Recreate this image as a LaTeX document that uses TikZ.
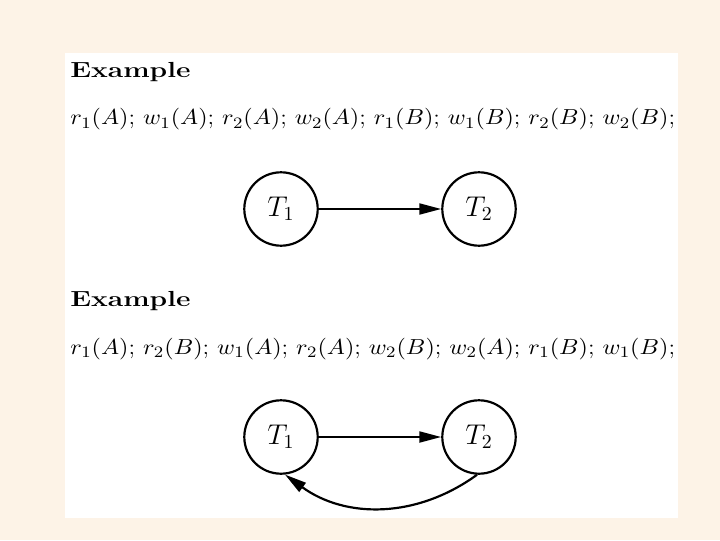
\documentclass[tikz,border=0pt]{standalone}
\usepackage{amsfonts, amssymb, amsmath}
\usepackage{xcolor}
\usepackage{graphicx}
\usetikzlibrary{arrows.meta}
\definecolor{fondo}{RGB}{253,243,231}

\begin{document}
\begin{tikzpicture}[x=0.504pt, y=-0.504pt, font=\fontsize{11}{13}\selectfont,
    trans/.style={draw, line width=1.1pt, circle, minimum size=37pt, inner sep=0pt,
      font=\fontsize{14.5}{16}\selectfont},
    flecha/.style={-{Triangle[length=11pt,width=5.5pt]}, line width=1.1pt},
    texto/.style={anchor=base west, inner sep=0pt}]
    % Parámetros: posiciones horizontales de T_1 y T_2, y alturas de cada grafo
    \def\xa{281}
    \def\xb{479}
    \def\ya{209}
    \def\yb{437}

    % Fondo y recuadro blanco
    \fill[fondo] (0,0) rectangle (720,540);
    \fill[white] (65,53) rectangle (678,518);

    % Primer ejemplo: título y planificación
    \node[texto] (tit1) at (70,78) {\scalebox{1.29}[1]{\textbf{Example}}};
    \node[texto] (plan1) at (70,125) {\scalebox{1.11}[1]{$r_1(A)$; $w_1(A)$; $r_2(A)$; $w_2(A)$; $r_1(B)$; $w_1(B)$; $r_2(B)$; $w_2(B)$;}};

    % Grafo de precedencia del primer ejemplo
    \node[trans] (t1a) at (\xa,\ya) {$T_1$};
    \node[trans] (t2a) at (\xb,\ya) {$T_2$};
    \draw[flecha] (t1a) -- (t2a);

    % Segundo ejemplo: título y planificación
    \node[texto] (tit2) at (70,306) {\scalebox{1.29}[1]{\textbf{Example}}};
    \node[texto] (plan2) at (70,354) {\scalebox{1.11}[1]{$r_1(A)$; $r_2(B)$; $w_1(A)$; $r_2(A)$; $w_2(B)$; $w_2(A)$; $r_1(B)$; $w_1(B)$;}};

    % Grafo de precedencia del segundo ejemplo (con ciclo)
    \node[trans] (t1b) at (\xa,\yb) {$T_1$};
    \node[trans] (t2b) at (\xb,\yb) {$T_2$};
    \draw[flecha] (t1b) -- (t2b);
    \draw[flecha] (t2b.-93) to[bend left=36] (t1b.-84);
\end{tikzpicture}
\end{document}
